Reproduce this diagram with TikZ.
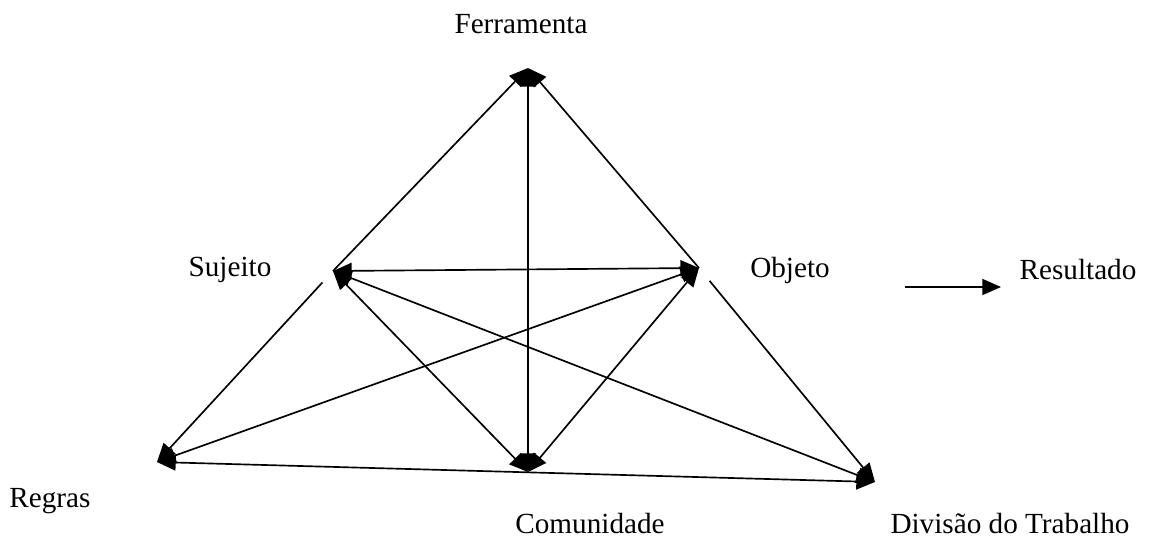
\documentclass[tikz,border=0pt]{standalone}
\usepackage{fontspec}
\setmainfont{Liberation Serif}
\usepackage{tikz}
\usetikzlibrary{arrows.meta,calc}
\tikzstyle{every node}=[font=\fontsize{21.9}{26}\selectfont]
\tikzstyle{label}=[inner sep=0pt,
                   anchor=center]
\tikzstyle{link}=[line width=1.25pt]

\begin{document}
\begin{tikzpicture}[x=0.75pt,y=-0.75pt,>={Triangle[length=14pt,width=12pt]}]
\useasboundingbox (0,0) rectangle (1153,543);
% corners of the triangle
\coordinate (T) at (528,68);
\coordinate (S) at (333,271);
\coordinate (O) at (699,268);
\coordinate (R) at (157,462);
\coordinate (C) at (528,472);
\coordinate (D) at (875,482);
\coordinate (S2) at ($(S)!0.06!(R)$);
\coordinate (O2) at ($(O)!0.06!(D)$);
% texts
\node (ferr)  [label] at (521,24)  {Ferramenta};
\node (suj)   [label] at (230,270) {Sujeito};
\node (obj)   [label] at (790,270) {Objeto};
\node (res)   [label] at (1078,270) {Resultado};
\node (regr)  [label] at (50,501)  {Regras};
\node (com)   [label] at (590,524) {Comunidade};
\node (div)   [label] at (1010,524) {Divisão do Trabalho};
\coordinate (res0) at (905,287);
\coordinate (res1) at (1001,287);
% connectors
\draw[link,->] (S) -- (T);
\draw[link,->] (O) -- (T);
\draw[link,->] (S2) -- (R);
\draw[link,->] (O2) -- (D);
\draw[link,<->] (T) -- (C);
\draw[link,<->] (S) -- (O);
\draw[link,<->] (S) -- (C);
\draw[link,<->] (O) -- (C);
\draw[link,<->] (S) -- (D);
\draw[link,<->] (O) -- (R);
\draw[link,<->] (R) -- (D);
\draw[link,->] (res0) -- (res1);
\end{tikzpicture}
\end{document}
